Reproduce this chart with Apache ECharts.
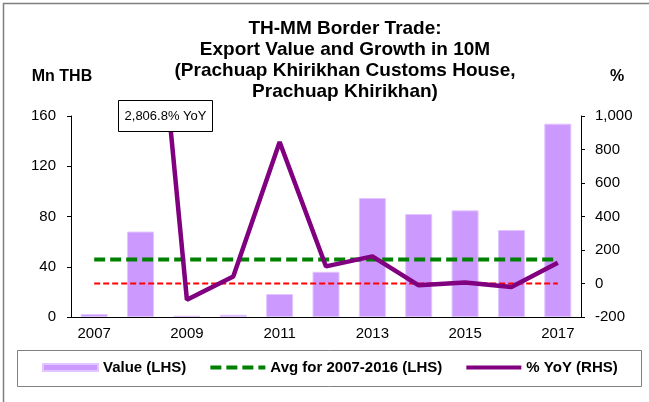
<!DOCTYPE html>
<html>
<head>
<meta charset="utf-8">
<script src="https://cdn.jsdelivr.net/npm/echarts@6/dist/echarts.min.js"></script>
<style>
  html, body { margin: 0; padding: 0; background: #fff; }
  #chart { width: 649px; height: 402px; }
</style>
</head>
<body>
<div id="chart"></div>
<script>
// Border trade through Prachuap Khirikhan Customs House, Jan-Oct of each year
const years = ['2007', '2008', '2009', '2010', '2011', '2012', '2013', '2014', '2015', '2016', '2017'];
const exportValue = [2.4, 68, 1.0, 1.8, 18.3, 36, 94.7, 82, 84.9, 69.3, 153.9];   // Mn THB
const yoyGrowth = [null, 2806.8, -97, 42, 845, 102, 162, -11, 6, -21, 124];      // %
const avgValue = 45.8;                                                            // Mn THB, 2007-2016
const leftTicks = { min: 0, max: 160, interval: 40 };
const rightTicks = { min: -200, max: 1000, interval: 200 };

const avgLine = years.map(() => avgValue);
const zeroLine = years.map(() => 0);

const FONT = 'Liberation Sans, Arial, sans-serif';
const chart = echarts.init(document.getElementById('chart'), null, { renderer: 'canvas' });

const peakLabel = yoyGrowth[1].toLocaleString('en-US', { minimumFractionDigits: 1 }) + '% YoY';

chart.setOption({
  animation: false,
  backgroundColor: '#fff',
  textStyle: { fontFamily: FONT, color: '#000' },
  grid: { left: 71, right: 68, top: 116, bottom: 85, containLabel: false },
  legend: {
    left: 42, top: 360, padding: 0,
    itemWidth: 55, itemHeight: 7, itemGap: 22,
    textStyle: { fontFamily: FONT, fontSize: 15, fontWeight: 'bold', color: '#000' },
    data: [
      { name: 'Value (LHS)', icon: 'rect' },
      { name: 'Avg for 2007-2016 (LHS)', itemStyle: { opacity: 0 },
        lineStyle: { width: 4, type: [11, 5], color: '#008000' } },
      { name: '% YoY (RHS)', itemStyle: { opacity: 0 },
        lineStyle: { width: 4, color: '#800080' } }
    ]
  },
  xAxis: {
    type: 'category',
    data: years,
    boundaryGap: true,
    axisLine: { lineStyle: { color: '#000', width: 1 } },
    axisTick: { interval: 0, length: 4, lineStyle: { color: '#000' } },
    axisLabel: { interval: 1, margin: 9, fontSize: 15, color: '#000', fontFamily: FONT }
  },
  yAxis: [
    {
      type: 'value', position: 'left',
      min: leftTicks.min, max: leftTicks.max, interval: leftTicks.interval,
      axisLine: { show: true, lineStyle: { color: '#000', width: 1 } },
      axisTick: { show: true, length: 4, lineStyle: { color: '#000' } },
      splitLine: { show: false },
      axisLabel: { margin: 15, fontSize: 15, color: '#000', fontFamily: FONT }
    },
    {
      type: 'value', position: 'right',
      min: rightTicks.min, max: rightTicks.max, interval: rightTicks.interval,
      axisLine: { show: true, lineStyle: { color: '#000', width: 1 } },
      axisTick: { show: true, length: 4, lineStyle: { color: '#000' } },
      splitLine: { show: false },
      axisLabel: {
        margin: 14, fontSize: 15, color: '#000', fontFamily: FONT,
        formatter: v => v.toLocaleString('en-US')
      }
    }
  ],
  series: [
    {
      name: 'Value (LHS)', type: 'bar', yAxisIndex: 0,
      data: exportValue, barWidth: 27,
      itemStyle: { color: '#CC99FF', borderColor: '#E2C6FF', borderWidth: 1 },
      z: 1
    },
    {
      name: 'Avg for 2007-2016 (LHS)', type: 'line', yAxisIndex: 0,
      data: avgLine, symbol: 'none',
      lineStyle: { color: '#008000', width: 4, type: [11, 5] },
      itemStyle: { color: '#008000' },
      z: 3
    },
    {
      name: 'zero', type: 'line', yAxisIndex: 1,
      data: zeroLine, symbol: 'none', silent: true,
      lineStyle: { color: '#FF0000', width: 2, type: [6, 3] },
      z: 3
    },
    {
      name: '% YoY (RHS)', type: 'line', yAxisIndex: 1,
      data: yoyGrowth, symbol: 'none', clip: true,
      lineStyle: { color: '#800080', width: 4.5 },
      itemStyle: { color: '#800080' },
      z: 4
    }
  ],
  graphic: [
    {
      type: 'rect', silent: true, z: 0,
      shape: { x: 3.5, y: 3.5, width: 720, height: 500 },
      style: { fill: null, stroke: '#7f7f7f', lineWidth: 1.5 }
    },
    {
      type: 'text', silent: true,
      style: {
        x: 345, y: 18, textAlign: 'center', textVerticalAlign: 'top',
        text: 'TH-MM Border Trade:\nExport Value and Growth in 10M\n(Prachuap Khirikhan Customs House,\nPrachuap Khirikhan)',
        font: 'bold 19px ' + FONT, lineHeight: 21, fill: '#000'
      }
    },
    {
      type: 'text', silent: true,
      style: { x: 62, y: 77, textAlign: 'center', textVerticalAlign: 'middle',
               text: 'Mn THB', font: 'bold 16px ' + FONT, fill: '#000' }
    },
    {
      type: 'text', silent: true,
      style: { x: 617, y: 77, textAlign: 'center', textVerticalAlign: 'middle',
               text: '%', font: 'bold 16px ' + FONT, fill: '#000' }
    },
    {
      type: 'rect', silent: true, z: 100,
      shape: { x: 118.5, y: 100.5, width: 94, height: 31 },
      style: { fill: '#fff', stroke: '#000', lineWidth: 1 }
    },
    {
      type: 'text', silent: true, z: 101,
      style: { x: 165.5, y: 116, textAlign: 'center', textVerticalAlign: 'middle',
               text: peakLabel, font: '13px ' + FONT, fill: '#000' }
    },
    {
      type: 'rect', silent: true, z: 0,
      shape: { x: 17.5, y: 350.5, width: 624, height: 36 },
      style: { fill: null, stroke: '#808080', lineWidth: 1 }
    }
  ]
});
</script>
</body>
</html>
